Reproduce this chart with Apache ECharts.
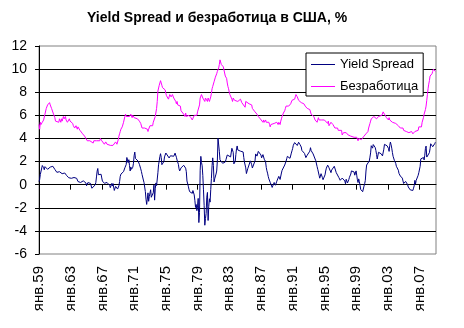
<!DOCTYPE html>
<html>
<head>
<meta charset="utf-8">
<script src="https://cdn.jsdelivr.net/npm/echarts@6/dist/echarts.min.js"></script>
<style>
html,body{margin:0;padding:0;background:#fff;}
#chart{width:464px;height:328px;}
</style>
</head>
<body>
<div id="chart"></div>
<script>
// Category labels: monthly, starting January 1959 (as labelled in the original)
const monthNames = ['янв','фев','мар','апр','май','июн','июл','авг','сен','окт','ноя','дек'];
const startYear = 1959;
const pointCount = 602;
const tickLabels = ['янв.59','янв.63','янв.67','янв.71','янв.75','янв.79','янв.83','янв.87','янв.91','янв.95','янв.99','янв.03','янв.07'];

// Yield Spread, % (monthly)
const yieldSpread = [
 0.27,0.45,0.88,0.99,1.00,1.66,1.57,1.47,1.29,1.56,1.53,1.56,
 1.57,1.33,1.32,1.46,1.39,1.52,1.65,1.62,1.67,1.59,1.43,1.43,
 1.32,1.27,1.17,1.07,1.14,1.14,1.05,1.12,1.16,1.15,1.05,0.95,
 0.86,0.94,0.98,1.01,0.95,0.94,0.78,0.62,0.64,0.60,0.53,0.54,
 0.58,0.55,0.61,0.69,0.65,0.62,0.66,0.62,0.60,0.55,0.44,0.27,
 0.30,0.20,0.20,0.19,0.24,0.33,0.28,0.33,0.29,0.23,0.27,0.15,
 -0.09,0.07,0.18,0.02,0.03,0.20,0.11,0.15,-0.31,-0.46,-0.28,-0.23,
 -0.25,-0.03,0.18,0.67,1.17,1.40,0.86,0.90,0.77,0.81,0.90,0.58,
 0.31,0.45,0.44,0.12,0.07,0.06,0.05,0.19,0.13,0.09,0.10,-0.07,
 -0.26,-0.10,0.10,-0.12,0.10,-0.06,-0.50,-0.50,-0.15,-0.12,-0.30,-0.38,
 -0.31,-0.09,0.27,0.72,0.91,0.99,0.86,0.97,1.13,1.29,1.46,1.43,
 1.74,2.35,2.27,1.90,2.16,1.65,1.18,1.53,1.33,1.37,1.51,1.85,
 2.50,2.82,2.27,2.40,2.36,2.12,2.04,2.10,1.76,1.61,1.37,1.15,
 0.88,0.86,0.40,0.18,0.25,-0.60,-1.26,-1.71,-1.61,-0.71,-1.44,-1.01,
 -1.11,-0.44,-1.09,-1.19,-1.02,-0.69,-0.04,-1.34,-0.36,0.15,-0.08,0.00,
 1.03,1.72,2.07,2.44,2.68,2.36,1.73,1.74,1.79,1.99,2.40,2.40,
 2.74,2.78,2.60,2.57,2.56,2.31,2.46,2.50,2.38,2.36,2.42,2.41,
 2.46,2.59,2.73,2.70,2.37,2.13,2.00,1.76,1.37,1.19,1.31,1.45,
 1.34,1.40,1.57,1.68,1.76,1.54,1.43,1.12,0.32,0.38,-0.13,-0.39,
 -0.60,-0.60,-0.74,-0.66,-0.75,-0.51,-0.65,-0.89,-1.39,-1.97,-1.72,-2.25,
 -1.84,-1.19,-3.28,-2.40,1.25,2.45,1.92,1.63,0.78,-0.45,-1.82,-3.51,
 -2.93,-2.50,-1.08,-0.67,-3.10,-1.88,-1.22,-1.51,-0.43,0.55,1.64,2.32,
 1.67,0.23,0.51,0.50,0.92,1.18,2.05,4.01,4.09,2.89,2.15,2.27,
 2.30,2.30,1.85,1.87,1.87,1.74,1.96,2.16,2.30,2.57,2.60,2.50,
 2.40,2.38,2.40,2.50,3.15,3.27,2.80,1.80,1.70,2.00,2.60,3.10,
 3.35,3.00,2.98,3.16,3.00,2.90,3.00,2.90,3.05,2.83,2.35,1.96,
 1.93,1.45,0.96,1.04,1.38,1.37,1.26,1.42,2.06,2.05,1.72,1.44,
 1.43,1.46,1.49,2.06,2.66,2.50,2.47,2.55,2.88,2.90,2.85,2.98,
 2.57,2.32,2.48,2.60,2.60,2.20,2.10,2.00,1.50,1.20,1.00,0.72,
 0.50,0.40,0.20,0.17,0.16,-0.24,-0.17,-0.08,0.19,0.10,-0.05,-0.07,
 0.30,0.45,0.40,0.72,0.72,0.45,0.56,1.01,1.24,1.30,1.10,1.11,
 1.70,1.75,2.03,2.24,2.45,2.55,2.53,2.42,2.28,2.38,2.73,2.93,
 3.14,3.41,3.41,3.64,3.67,3.51,3.56,3.39,3.45,3.67,3.67,3.48,
 3.53,3.26,2.96,3.03,3.01,2.82,2.70,2.59,2.34,2.24,2.55,2.64,
 2.70,2.65,2.90,3.20,2.95,2.87,2.87,2.66,2.74,2.68,2.52,2.07,
 1.93,1.56,1.33,1.27,0.82,0.56,0.72,0.95,0.78,0.62,0.43,0.43,
 0.52,0.85,1.18,1.43,1.59,1.69,1.59,1.46,1.61,1.41,1.04,1.26,
 1.42,1.28,1.41,1.59,1.53,1.43,1.04,1.03,1.13,0.93,0.61,0.52,
 0.38,0.36,0.50,0.57,0.53,0.40,0.38,0.32,0.08,0.47,0.31,0.15,
 0.27,0.44,0.64,0.79,0.92,1.19,1.07,1.05,1.06,1.10,0.82,0.95,
 1.19,0.82,0.42,0.18,0.50,0.26,-0.06,-0.41,-0.36,-0.53,-0.61,-0.68,
 -0.13,0.08,0.37,1.18,1.70,1.72,1.66,1.54,2.05,2.38,2.75,3.37,
 3.37,3.16,3.47,3.47,3.41,3.21,2.95,2.62,2.22,2.34,2.80,2.82,
 2.87,2.72,2.67,2.82,2.49,2.40,3.07,3.49,3.32,3.36,3.36,3.36,
 3.26,3.14,2.88,3.40,3.69,3.45,3.16,2.79,2.46,2.32,2.10,2.02,
 1.85,1.59,1.72,1.50,1.25,0.97,0.90,0.75,0.71,0.67,0.57,0.49,
 0.10,0.04,0.09,0.28,0.27,0.20,0.01,-0.20,-0.21,-0.31,-0.45,-0.41,
 -0.35,-0.44,-0.50,-0.30,-0.10,0.37,0.06,0.37,0.53,0.53,0.81,1.04,
 0.93,1.59,2.23,2.37,2.11,2.20,2.35,2.14,2.55,3.13,3.34,2.39,
 2.39,2.57,2.60,2.77,3.11,3.54,3.38,3.42,3.28,3.32,3.35,3.54,
 3.67,3.58
];

// Безработица (unemployment), % (monthly)
const unemployment = [
 5.2,4.8,5.4,5.2,5.1,5.4,5.5,5.6,5.5,6.1,6.1,6.6,
 6.6,6.9,6.9,7.0,7.1,6.9,7.0,6.6,6.7,6.5,6.1,6.0,
 5.8,5.5,5.6,5.6,5.5,5.5,5.4,5.7,5.6,5.4,5.7,5.5,
 5.7,5.9,5.7,5.7,5.9,5.6,5.6,5.4,5.5,5.5,5.7,5.5,
 5.6,5.4,5.4,5.3,5.1,5.2,4.9,5.0,5.1,5.1,4.8,5.0,
 4.9,5.1,4.7,4.8,4.6,4.6,4.4,4.4,4.3,4.2,4.1,4.0,
 4.0,3.8,3.8,3.8,3.9,3.8,3.8,3.8,3.7,3.7,3.6,3.8,
 3.9,3.8,3.8,3.8,3.8,3.9,3.8,3.8,3.8,4.0,3.9,3.8,
 3.7,3.8,3.7,3.5,3.5,3.7,3.7,3.5,3.4,3.4,3.4,3.4,
 3.4,3.4,3.4,3.4,3.4,3.5,3.5,3.5,3.7,3.7,3.5,3.5,
 3.9,4.2,4.4,4.6,4.8,4.9,5.0,5.1,5.4,5.5,5.9,6.1,
 5.9,5.9,6.0,5.9,5.9,5.9,6.0,6.1,6.0,5.8,6.0,6.0,
 5.8,5.7,5.8,5.7,5.7,5.7,5.6,5.6,5.5,5.6,5.3,5.2,
 4.9,5.0,4.9,5.0,4.9,4.9,4.8,4.8,4.8,4.6,4.8,4.9,
 5.1,5.2,5.1,5.1,5.1,5.4,5.5,5.5,5.9,6.0,6.6,7.2,
 8.1,8.1,8.6,8.8,9.0,8.8,8.6,8.4,8.4,8.4,8.3,8.2,
 7.9,7.7,7.6,7.7,7.4,7.6,7.8,7.8,7.6,7.7,7.8,7.8,
 7.5,7.6,7.4,7.2,7.0,7.2,6.9,7.0,6.8,6.8,6.8,6.4,
 6.4,6.3,6.3,6.1,6.0,5.9,6.2,5.9,6.0,5.8,5.9,6.0,
 5.9,5.9,5.8,5.8,5.6,5.7,5.7,6.0,5.9,6.0,5.9,6.0,
 6.3,6.3,6.3,6.9,7.5,7.6,7.8,7.7,7.5,7.5,7.5,7.2,
 7.5,7.4,7.4,7.2,7.5,7.5,7.2,7.4,7.6,7.9,8.3,8.5,
 8.6,8.9,9.0,9.3,9.4,9.6,9.8,9.8,10.1,10.4,10.8,10.8,
 10.4,10.4,10.3,10.2,10.1,10.1,9.4,9.5,9.2,8.8,8.5,8.3,
 8.0,7.8,7.8,7.7,7.4,7.2,7.5,7.5,7.3,7.4,7.2,7.3,
 7.3,7.2,7.2,7.3,7.2,7.4,7.4,7.1,7.1,7.1,7.0,7.0,
 6.7,7.2,7.2,7.1,7.2,7.2,7.0,6.9,7.0,7.0,6.9,6.6,
 6.6,6.6,6.6,6.3,6.3,6.2,6.1,6.0,5.9,6.0,5.8,5.7,
 5.7,5.7,5.7,5.4,5.6,5.4,5.4,5.6,5.4,5.4,5.3,5.3,
 5.4,5.2,5.0,5.2,5.2,5.3,5.2,5.2,5.3,5.3,5.4,5.4,
 5.4,5.3,5.2,5.4,5.4,5.2,5.5,5.7,5.9,5.9,6.2,6.3,
 6.4,6.6,6.8,6.7,6.9,6.9,6.8,6.9,6.9,7.0,7.0,7.3,
 7.3,7.4,7.4,7.4,7.6,7.8,7.7,7.6,7.6,7.3,7.4,7.4,
 7.3,7.1,7.0,7.1,7.1,7.0,6.9,6.8,6.7,6.8,6.6,6.5,
 6.6,6.6,6.5,6.4,6.1,6.1,6.1,6.0,5.9,5.8,5.6,5.5,
 5.6,5.4,5.4,5.8,5.6,5.6,5.7,5.7,5.6,5.5,5.6,5.6,
 5.6,5.5,5.5,5.6,5.6,5.3,5.5,5.1,5.2,5.2,5.4,5.4,
 5.3,5.2,5.2,5.1,4.9,5.0,4.9,4.8,4.9,4.7,4.6,4.7,
 4.6,4.6,4.7,4.3,4.4,4.5,4.5,4.5,4.6,4.5,4.4,4.4,
 4.3,4.4,4.2,4.3,4.2,4.3,4.3,4.2,4.2,4.1,4.1,4.0,
 4.0,4.1,4.0,3.8,4.0,4.0,4.0,4.1,3.9,3.9,3.9,3.9,
 4.2,4.2,4.3,4.4,4.3,4.5,4.6,4.9,5.0,5.3,5.5,5.7,
 5.7,5.7,5.7,5.9,5.8,5.8,5.8,5.7,5.7,5.7,5.9,6.0,
 5.8,5.9,5.9,6.0,6.1,6.3,6.2,6.1,6.1,6.0,5.8,5.7,
 5.7,5.6,5.8,5.6,5.6,5.6,5.5,5.4,5.4,5.5,5.4,5.4,
 5.3,5.4,5.2,5.2,5.1,5.0,5.0,4.9,5.0,5.0,5.0,4.9,
 4.7,4.8,4.7,4.7,4.6,4.6,4.7,4.7,4.5,4.4,4.5,4.4,
 4.6,4.5,4.4,4.5,4.4,4.6,4.7,4.6,4.7,4.7,4.7,5.0,
 5.0,4.9,5.1,5.0,5.4,5.6,5.8,6.1,6.1,6.5,6.8,7.3,
 7.8,8.3,8.7,9.0,9.4,9.5,9.5,9.6,9.8,10.0,9.9,9.9,
 9.8,9.8
];

const categories = [];
for (let i = 0; i < pointCount; i++) {
  const y = startYear + Math.floor(i / 12);
  categories.push(monthNames[i % 12] + '.' + String(y % 100).padStart(2, '0'));
}
const tickSet = new Set(tickLabels);

const FONT = "'Liberation Sans', Arial, sans-serif";
const chart = echarts.init(document.getElementById('chart'), null, {renderer: 'canvas'});
chart.setOption({
  animation: false,
  backgroundColor: '#ffffff',
  title: {
    text: 'Yield Spread и безработица в США, %',
    left: 87, top: 11, padding: 0,
    textStyle: {fontFamily: FONT, fontWeight: 'bold', fontSize: 14, color: '#000'}
  },
  legend: {
    orient: 'vertical', left: 306, top: 53,
    padding: [5, 5, 3, 5], itemGap: 9, itemWidth: 24, itemHeight: 1,
    icon: 'rect',
    backgroundColor: '#ffffff', borderColor: '#000', borderWidth: 1,
    textStyle: {fontFamily: FONT, fontSize: 13, color: '#000'},
    data: ['Yield Spread', 'Безработица']
  },
  grid: {
    left: 39, right: 28, top: 46, bottom: 74,
    show: true, borderColor: '#808080', borderWidth: 1, backgroundColor: '#ffffff'
  },
  xAxis: [
    {
      type: 'category', data: categories, boundaryGap: false, position: 'bottom',
      axisLine: {show: true, onZero: true, lineStyle: {color: '#000', width: 1}},
      axisTick: {show: true, interval: 47, length: 5, lineStyle: {color: '#000'}},
      axisLabel: {show: false},
      splitLine: {show: false}
    },
    {
      type: 'category', data: categories, boundaryGap: false, position: 'bottom',
      axisLine: {show: false, onZero: false},
      axisTick: {show: false},
      axisLabel: {
        interval: 47, rotate: 90, margin: 12,
        fontFamily: FONT, fontSize: 15, color: '#000',
        formatter: v => tickSet.has(v) ? v : ''
      },
      splitLine: {show: false}
    }
  ],
  yAxis: {
    type: 'value', min: -6, max: 12, interval: 2,
    axisLine: {show: true, onZero: false, lineStyle: {color: '#000', width: 1}},
    axisTick: {show: true, length: 4, lineStyle: {color: '#000'}},
    axisLabel: {margin: 12, fontFamily: FONT, fontSize: 14, color: '#000'},
    splitLine: {show: true, showMinLine: false, showMaxLine: false, lineStyle: {color: '#000', width: 1}}
  },
  series: [
    {
      name: 'Yield Spread', type: 'line', xAxisIndex: 0, data: yieldSpread,
      symbol: 'none', lineStyle: {color: '#000080', width: 1}, itemStyle: {color: '#000080'},
      z: 3
    },
    {
      name: 'Безработица', type: 'line', xAxisIndex: 0, data: unemployment,
      symbol: 'none', lineStyle: {color: '#ff00ff', width: 1}, itemStyle: {color: '#ff00ff'},
      z: 3
    }
  ]
});
</script>
</body>
</html>
